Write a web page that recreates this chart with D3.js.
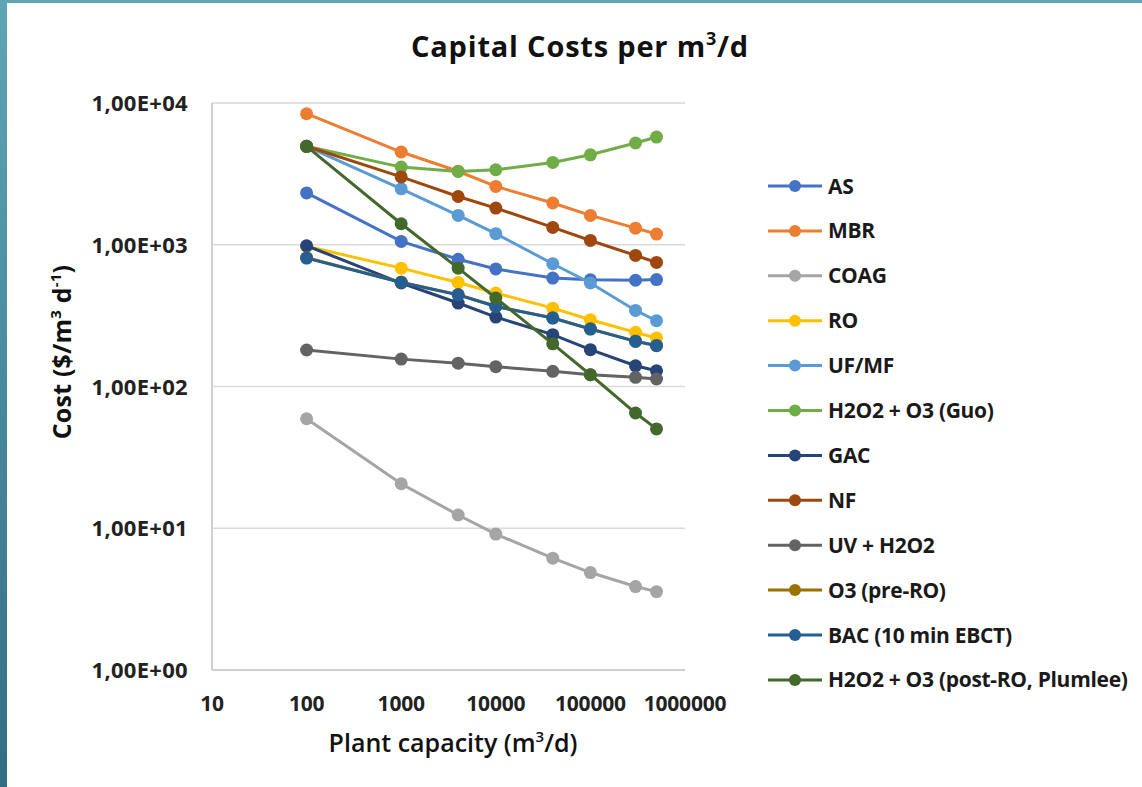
<!DOCTYPE html>
<html>
<head>
<meta charset="utf-8">
<script src="https://cdn.jsdelivr.net/npm/d3@7.9.0/dist/d3.min.js"></script>
<style>
  body { margin: 0; background: #fff; }
  svg { display: block; font-family: "Open Sans", "Noto Sans", sans-serif; }
</style>
</head>
<body>
<svg id="chart" width="1142" height="787"></svg>
<script>
const capacity = [100, 1000, 4000, 10000, 40000, 100000, 300000, 500000];

const seriesNames = ['AS', 'MBR', 'COAG', 'RO', 'UF/MF', 'H2O2 + O3 (Guo)', 'GAC', 'NF',
  'UV + H2O2', 'O3 (pre-RO)', 'BAC (10 min EBCT)', 'H2O2 + O3 (post-RO, Plumlee)'];

const seriesColors = ['#4472C4', '#ED7D31', '#A5A5A5', '#FFC000', '#5B9BD5', '#70AD47',
  '#264478', '#9E480E', '#636363', '#997300', '#255E91', '#43682B'];

const asCost      = [2320, 1055, 790, 675, 582, 566, 562, 568];
const mbrCost     = [8400, 4510, 3300, 2580, 1970, 1610, 1310, 1190];
const coagCost    = [59.2, 20.6, 12.4, 9.1, 6.15, 4.87, 3.88, 3.57];
const roCost      = [975, 684, 542, 456, 357, 296, 241, 220];
const ufCost      = [4950, 2480, 1610, 1197, 735, 537, 344, 291];
const guoCost     = [4950, 3530, 3290, 3380, 3810, 4310, 5220, 5750];
const gacCost     = [984, 537, 388, 309, 232, 182, 140, 129];
const nfCost      = [4950, 3010, 2190, 1815, 1325, 1072, 841, 750];
const uvCost      = [181, 156, 146, 138, 128, 121, 116, 113];
const o3Cost      = [810, 545, 445, 368, 305, 255, 209, 195];
const bacCost     = [805, 542, 443, 367, 304, 254, 208, 194];
const plumleeCost = [4950, 1406, 684, 421, 200, 121, 65, 50.2];

const costs = [asCost, mbrCost, coagCost, roCost, ufCost, guoCost, gacCost, nfCost,
  uvCost, o3Cost, bacCost, plumleeCost];

const yTicks = [1, 10, 100, 1000, 10000];
const yTickLabels = ['1,00E+00', '1,00E+01', '1,00E+02', '1,00E+03', '1,00E+04'];
const xTicks = [10, 100, 1000, 10000, 100000, 1000000];

const svg = d3.select('#chart');

// slide frame
const grad = svg.append('defs').append('linearGradient')
  .attr('id', 'frame').attr('x1', 0).attr('y1', 0).attr('x2', 0).attr('y2', 1);
grad.append('stop').attr('offset', '0%').attr('stop-color', '#5ea5b6');
grad.append('stop').attr('offset', '100%').attr('stop-color', '#336d84');
svg.append('rect').attr('x', 0).attr('y', 0).attr('width', 7).attr('height', 787).attr('fill', 'url(#frame)');
svg.append('rect').attr('x', 0).attr('y', 0).attr('width', 1142).attr('height', 3).attr('fill', '#5ea5b6');

const x = d3.scaleLog().domain([10, 1000000]).range([212, 685]);
const y = d3.scaleLog().domain([1, 10000]).range([670, 103]);

// gridlines
svg.append('g')
  .selectAll('line')
  .data(yTicks.slice(1))
  .join('line')
  .attr('x1', x(10)).attr('x2', x(1000000))
  .attr('y1', d => y(d)).attr('y2', d => y(d))
  .attr('stroke', '#d9d9d9').attr('stroke-width', 1.5);

// axes lines
svg.append('line').attr('x1', x(10)).attr('x2', x(10)).attr('y1', y(10000)).attr('y2', y(1))
  .attr('stroke', '#d0d0d0').attr('stroke-width', 2);
svg.append('line').attr('x1', x(10)).attr('x2', x(1000000)).attr('y1', y(1)).attr('y2', y(1))
  .attr('stroke', '#d0d0d0').attr('stroke-width', 2);

// tick labels
svg.append('g')
  .selectAll('text')
  .data(yTicks)
  .join('text')
  .attr('x', 188).attr('y', d => y(d) + 8)
  .attr('text-anchor', 'end')
  .attr('font-size', 22).attr('font-weight', 700).attr('fill', '#222')
  .attr('letter-spacing', 0.3)
  .text((d, i) => yTickLabels[i]);

svg.append('g')
  .selectAll('text')
  .data(xTicks)
  .join('text')
  .attr('x', d => x(d)).attr('y', 711)
  .attr('text-anchor', 'middle')
  .attr('font-size', 21).attr('font-weight', 700).attr('fill', '#222')
  .attr('letter-spacing', -0.2)
  .text(d => d);

// titles
const title = svg.append('text')
  .attr('x', 580).attr('y', 57).attr('text-anchor', 'middle')
  .attr('font-size', 29).attr('font-weight', 700).attr('fill', '#111')
  .attr('letter-spacing', 0.8);
title.append('tspan').text('Capital Costs per m');
title.append('tspan').attr('font-size', 18).attr('dy', -12).text('3');
title.append('tspan').attr('dy', 12).text('/d');

const xTitle = svg.append('text')
  .attr('x', 453).attr('y', 752).attr('text-anchor', 'middle')
  .attr('font-size', 25).attr('font-weight', 600).attr('fill', '#111')
  .attr('letter-spacing', 0);
xTitle.append('tspan').text('Plant capacity (m');
xTitle.append('tspan').attr('font-size', 15).attr('dy', -10).text('3');
xTitle.append('tspan').attr('dy', 10).text('/d)');

const yTitle = svg.append('text')
  .attr('transform', 'translate(71,352) rotate(-90)')
  .attr('text-anchor', 'middle')
  .attr('font-size', 25).attr('font-weight', 700).attr('fill', '#111')
  .attr('letter-spacing', 0.2);
yTitle.append('tspan').text('Cost ($/m');
yTitle.append('tspan').attr('font-size', 15).attr('dy', -10).text('3');
yTitle.append('tspan').attr('dy', 10).text(' d');
yTitle.append('tspan').attr('font-size', 15).attr('dy', -10).text('-1');
yTitle.append('tspan').attr('dy', 10).text(')');

// series
const line = d3.line().x(d => x(d[0])).y(d => y(d[1]));

seriesNames.forEach((name, i) => {
  const pts = capacity.map((c, j) => [c, costs[i][j]]);
  const g = svg.append('g');
  g.append('path')
    .attr('d', line(pts))
    .attr('fill', 'none')
    .attr('stroke', seriesColors[i])
    .attr('stroke-width', 3);
  g.selectAll('circle')
    .data(pts)
    .join('circle')
    .attr('cx', d => x(d[0])).attr('cy', d => y(d[1]))
    .attr('r', 6.5)
    .attr('fill', seriesColors[i]);
});

// legend
const legend = svg.append('g');
seriesNames.forEach((name, i) => {
  const ly = 186 + i * 44.9;
  legend.append('line')
    .attr('x1', 768).attr('x2', 822).attr('y1', ly).attr('y2', ly)
    .attr('stroke', seriesColors[i]).attr('stroke-width', 3);
  legend.append('circle')
    .attr('cx', 795).attr('cy', ly).attr('r', 6)
    .attr('fill', seriesColors[i]);
  legend.append('text')
    .attr('x', 828).attr('y', ly + 7.5)
    .attr('font-size', 21).attr('font-weight', 700).attr('fill', '#1a1a1a')
    .attr('letter-spacing', -0.3)
    .text(name);
});
</script>
</body>
</html>
